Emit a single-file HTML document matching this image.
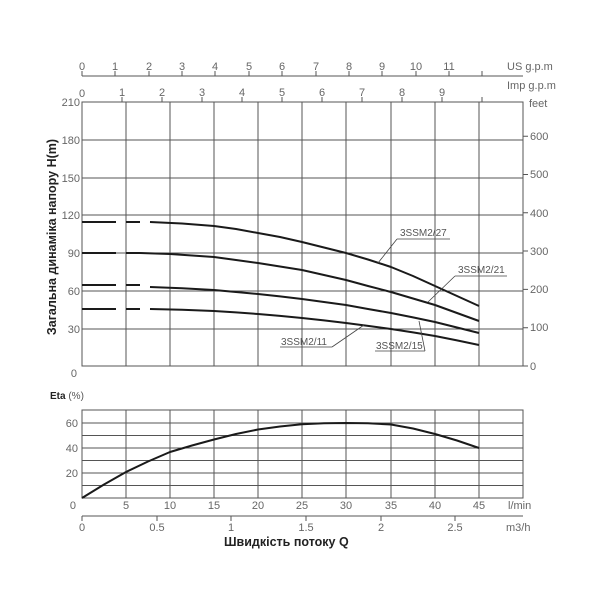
<!DOCTYPE html>
<html><head><meta charset="utf-8"><style>
html,body{margin:0;padding:0;background:#fff;}
svg{display:block;font-family:"Liberation Sans",sans-serif;}
.t{fill:#666;font-size:11px;}
.g{stroke:#555;stroke-width:1;fill:none;}
.c{stroke:#1a1a1a;stroke-width:2;fill:none;stroke-linejoin:round;}
.l{stroke:#444;stroke-width:0.8;fill:none;}
.lb{fill:#555;font-size:10px;}
</style></head><body>
<svg width="600" height="600" viewBox="0 0 600 600">
<line x1="82" y1="76" x2="523" y2="76" class="g"/>
<g class="g">
<path d="M82 71V76M115 71V76M149 71V76M182 71V76M215 71V76M249 71V76M282 71V76M316 71V76M349 71V76M382 71V76M416 71V76M449 71V76M482 71V76"/>
</g>
<g class="t" text-anchor="middle">
<text x="82" y="70">0</text><text x="115" y="70">1</text><text x="149" y="70">2</text><text x="182" y="70">3</text><text x="215" y="70">4</text><text x="249" y="70">5</text><text x="282" y="70">6</text><text x="316" y="70">7</text><text x="349" y="70">8</text><text x="382" y="70">9</text><text x="416" y="70">10</text><text x="449" y="70">11</text>
</g>
<text x="507" y="70" class="t">US g.p.m</text>
<text x="507" y="89" class="t">Imp g.p.m</text>
<g class="g"><path d="M122 97V102M162 97V102M202 97V102M242 97V102M282 97V102M322 97V102M362 97V102M402 97V102M442 97V102M482 97V102"/></g>
<g class="t" text-anchor="middle">
<text x="82" y="97">0</text><text x="122" y="96">1</text><text x="162" y="96">2</text><text x="202" y="96">3</text><text x="242" y="96">4</text><text x="282" y="96">5</text><text x="322" y="96">6</text><text x="362" y="96">7</text><text x="402" y="96">8</text><text x="442" y="96">9</text>
</g>
<rect x="82" y="102" width="441" height="264" class="g"/>
<g class="g">
<path d="M126 102V366M170 102V366M214 102V366M258 102V366M302 102V366M346 102V366M391 102V366M435 102V366M479 102V366"/>
<path d="M82 140H523M82 178H523M82 215H523M82 253H523M82 291H523M82 329H523"/>
<path d="M523 366H528M523 327.7H528M523 289.4H528M523 251H528M523 212.8H528M523 174.5H528M523 136.2H528"/>
</g>
<g class="t" text-anchor="end">
<text x="80" y="106">210</text><text x="80" y="144">180</text><text x="80" y="182">150</text><text x="80" y="219">120</text><text x="80" y="257">90</text><text x="80" y="295">60</text><text x="80" y="333">30</text><text x="77" y="377">0</text>
</g>
<g class="t">
<text x="529" y="107">feet</text><text x="530" y="140">600</text><text x="530" y="178">500</text><text x="530" y="217">400</text><text x="530" y="255">300</text><text x="530" y="293">200</text><text x="530" y="331">100</text><text x="530" y="370">0</text>
</g>
<text transform="translate(56,237) rotate(-90)" text-anchor="middle" style="font-size:12.5px;fill:#222;font-weight:bold">Загальна динаміка напору H(m)</text>
<g class="c">
<path d="M82 222H116M126 222H140M82 253H116M126 253H140M82 285H116M126 285H140M82 309H116M126 309H140"/>
<polyline points="150,222 182,223.5 214,226 236,229 258,233 280,237 302,242 324,247.5 346,253 368,259.5 391,267 413,276 435,286 457,296 479,306"/>
<polyline points="140,253 170,254 192,255.5 214,257 236,260 258,263 280,266.5 302,270 324,275 346,280 368,286 391,292 413,298.5 435,305 457,313 479,321"/>
<polyline points="150,287 182,288.3 214,290 236,292 258,294 280,296.4 302,299 324,302 346,305 368,309 391,313 413,317.4 435,322 457,327.5 479,333"/>
<polyline points="150,309 182,309.8 214,311 236,312.4 258,314 280,315.9 302,318 324,320.4 346,323 368,325.9 391,329 413,332.4 435,336 457,340.4 479,345"/>
</g>
<g class="l">
<path d="M397 239H450M397 239L378 263"/>
<path d="M455 276H507M455 276L428 302"/>
<path d="M280 347H332M332 347L364 325"/>
<path d="M375 351H425M425 351L419 321"/>
</g>
<g class="lb">
<text x="400" y="236">3SSM2/27</text>
<text x="458" y="273">3SSM2/21</text>
<text x="281" y="345">3SSM2/11</text>
<text x="376" y="349">3SSM2/15</text>
</g>
<text x="50" y="399" style="font-size:10px;fill:#222;font-weight:bold">Eta <tspan style="font-weight:normal;fill:#555">(%)</tspan></text>
<rect x="82" y="410" width="441" height="88" class="g"/>
<g class="g">
<path d="M126 410V498M170 410V498M214 410V498M258 410V498M302 410V498M346 410V498M391 410V498M435 410V498M479 410V498"/>
<path d="M82 423H523M82 435.5H523M82 448H523M82 460.5H523M82 473H523M82 485.5H523"/>
</g>
<g class="t" text-anchor="end">
<text x="78" y="427">60</text><text x="78" y="452">40</text><text x="78" y="477">20</text><text x="76" y="509">0</text>
</g>
<polyline class="c" points="82,498 104,484.5 126,472 148,461.5 170,452 192,445.5 214,439.5 236,434 258,429.5 280,426.5 302,424.3 324,423.2 346,423 368,423.3 391,424.5 413,428.5 435,434 457,440.5 479,448"/>
<g class="t" text-anchor="middle">
<text x="126" y="509">5</text><text x="170" y="509">10</text><text x="214" y="509">15</text><text x="258" y="509">20</text><text x="302" y="509">25</text><text x="346" y="509">30</text><text x="391" y="509">35</text><text x="435" y="509">40</text><text x="479" y="509">45</text>
</g>
<text x="508" y="509" class="t">l/min</text>
<line x1="82" y1="516" x2="523" y2="516" class="g"/>
<g class="g"><path d="M82 516V521M157 516V521M231 516V521M306 516V521M381 516V521M455 516V521"/></g>
<g class="t" text-anchor="middle">
<text x="82" y="531">0</text><text x="157" y="531">0.5</text><text x="231" y="531">1</text><text x="306" y="531">1.5</text><text x="381" y="531">2</text><text x="455" y="531">2.5</text>
</g>
<text x="506" y="531" class="t">m3/h</text>
<text x="224" y="546" style="font-size:12.5px;fill:#222;font-weight:bold">Швидкість потоку Q</text>
</svg>
</body></html>
